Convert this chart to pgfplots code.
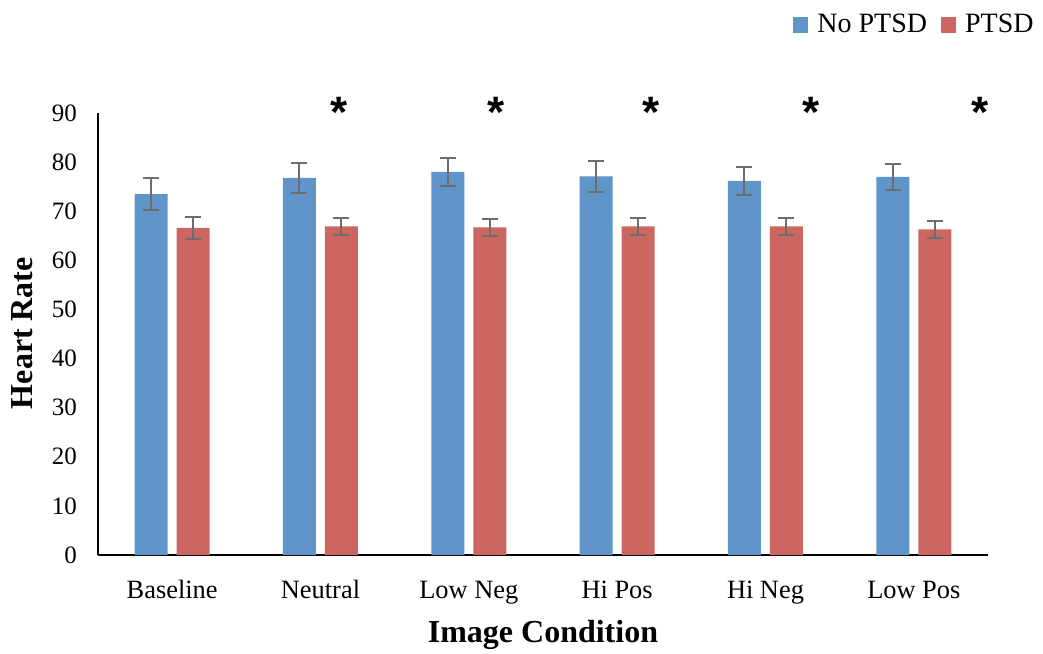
\documentclass[border=0pt]{standalone}
\usepackage{fontspec}
\setmainfont{Liberation Serif}
\newfontfamily\arialfont{Liberation Sans}
\usepackage{pgfplots}
\pgfplotsset{compat=1.18}
\definecolor{cblue}{HTML}{5F95C9}
\definecolor{cred}{HTML}{CC6660}
\definecolor{cerr}{HTML}{6D6D6D}

\pgfplotstableread{
x y e
0 73.5 3.3
1 76.8 3.0
2 78.0 2.85
3 77.1 3.1
4 76.2 2.9
5 77.0 2.6
}\nopt
\pgfplotstableread{
x y e
0 66.6 2.2
1 66.9 1.8
2 66.7 1.75
3 66.9 1.8
4 66.9 1.8
5 66.3 1.75
}\pt
\pgfplotstableread{
x y
1.125 93.3
2.183 93.3
3.23 93.3
4.308 93.3
5.444 93.3
}\stars

\begin{document}
\begin{tikzpicture}
\path[use as bounding box] (-49pt,-49pt) rectangle (472.5pt,277.5pt);
\begin{axis}[
  scale only axis, width=445pt, height=221pt,
  xmin=-0.5, xmax=5.5, ymin=0, ymax=90,
  ybar, bar width=16.5pt,
  axis x line*=bottom, axis y line*=left,
  axis line style={-, line width=1pt, black},
  ytick={0,10,...,90},
  xtick={0,...,5},
  xticklabels={Baseline,Neutral,Low Neg,Hi Pos,Hi Neg,Low Pos},
  major tick length=0pt,
  tick style={draw=none},
  /pgf/number format/assume math mode=true,
  yticklabel style={font=\fontsize{12.5}{14}\selectfont, anchor=east, xshift=-7pt},
  xticklabel style={font=\fontsize{13.2}{15}\selectfont, anchor=base, yshift=-21.5pt},
  xlabel={Image Condition},
  ylabel={Heart Rate},
  label style={font=\fontsize{16}{18}\selectfont\bfseries},
  x label style={at={(axis description cs:0.5,-0.181)}, anchor=center},
  y label style={at={(axis description cs:-0.0854,0.502)}, anchor=center},
  clip=false,
  legend columns=2,
  legend style={draw=none, fill=none, inner sep=0pt,
    font=\fontsize{14}{16}\selectfont,
    at={(axis description cs:1,1)}, anchor=east, xshift=25pt, yshift=44pt,
    /tikz/every even column/.append style={column sep=5pt}},
  legend image code/.code={\fill[#1] (0pt,-3.8pt) rectangle (7.5pt,3.8pt); \path (10pt,0pt);},
]
\addplot[fill=cblue, draw=none, bar shift=-10.5pt,
  error bars/.cd, y dir=both, y explicit,
  error bar style={cerr, line width=1pt},
  error mark options={cerr, line width=1pt, mark size=4pt, rotate=90}]
  table[x=x, y=y, y error=e] {\nopt};
\addlegendentry{No PTSD}
\addplot[fill=cred, draw=none, bar shift=10.5pt,
  error bars/.cd, y dir=both, y explicit,
  error bar style={cerr, line width=1pt},
  error mark options={cerr, line width=1pt, mark size=4pt, rotate=90}]
  table[x=x, y=y, y error=e] {\pt};
\addlegendentry{PTSD}
\addplot[forget plot, draw=none, mark=none, bar shift=0pt,
  nodes near coords={\arialfont\bfseries *},
  every node near coord/.style={anchor=north, inner sep=0pt, text=black,
    font=\fontsize{22}{22}\selectfont}]
  table[x=x, y=y] {\stars};
\end{axis}
\end{tikzpicture}
\end{document}
